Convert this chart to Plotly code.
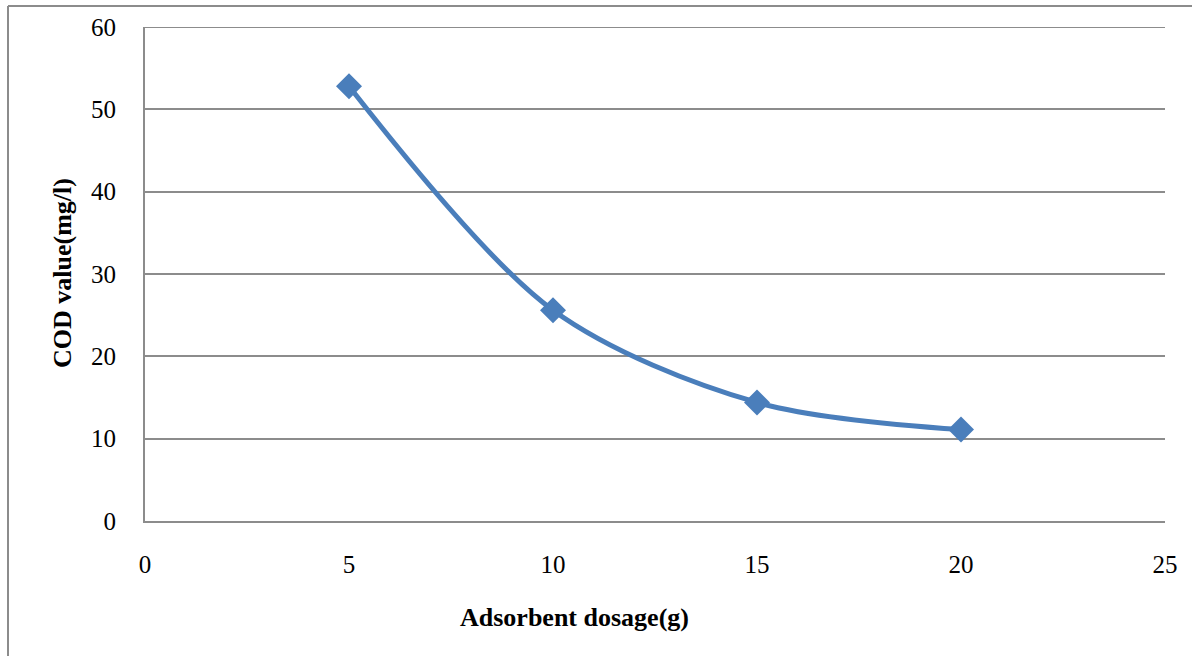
import plotly.graph_objects as go

dosage = [5, 10, 15, 20]
cod = [52.8, 25.6, 14.4, 11.1]

W, H = 1192, 656
L, R, T, B = 145, 27, 27, 135
pw, ph = W - L - R, H - T - B

fig = go.Figure()
fig.add_trace(go.Scatter(
    x=dosage, y=cod, mode="lines+markers",
    line=dict(color="#4a7ebb", width=5, shape="spline", smoothing=0.9),
    marker=dict(symbol="diamond", size=20, color="#4a7ebb"),
    showlegend=False,
))

font_family = "Liberation Serif, Times New Roman, serif"
fig.update_layout(
    width=W, height=H,
    margin=dict(l=L, r=R, t=T, b=B),
    paper_bgcolor="white", plot_bgcolor="white",
    font=dict(family=font_family, color="black", size=25),
    xaxis=dict(range=[0, 25], dtick=5, tick0=0, showgrid=False,
               showline=True, linecolor="#8c8c8c", linewidth=2,
               ticks="", ticklabelstandoff=20, zeroline=False,
               tickfont=dict(size=25)),
    yaxis=dict(range=[0, 60], dtick=10, tick0=0, showgrid=True,
               gridcolor="#8c8c8c", gridwidth=2,
               showline=True, linecolor="#8c8c8c", linewidth=2,
               ticks="", ticklabelstandoff=22, zeroline=False,
               tickfont=dict(size=25)),
)

# top gridline at the range edge
fig.add_shape(type="line", xref="paper", yref="y",
              x0=0, x1=1, y0=60, y1=60,
              line=dict(color="#8c8c8c", width=2), layer="below")

fig.add_annotation(xref="paper", yref="paper",
                   x=(574 - L) / pw, y=(H - B - 617) / ph,
                   xanchor="center", yanchor="middle",
                   text="<b>Adsorbent dosage(g)</b>", showarrow=False,
                   font=dict(size=26, family=font_family))
fig.add_annotation(xref="paper", yref="paper",
                   x=(62 - L) / pw, y=(H - B - 273) / ph,
                   xanchor="center", yanchor="middle",
                   text="<b>COD value(mg/l)</b>", showarrow=False, textangle=-90,
                   font=dict(size=26, family=font_family))

# outer chart border (left and top)
bx0 = (8 - L) / pw
by0 = (H - B - 6) / ph
fig.add_shape(type="line", xref="paper", yref="paper",
              x0=bx0, x1=bx0, y0=by0, y1=-0.5,
              line=dict(color="#8c8c8c", width=2))
fig.add_shape(type="line", xref="paper", yref="paper",
              x0=bx0, x1=1.1, y0=by0, y1=by0,
              line=dict(color="#8c8c8c", width=2))

fig.write_html("out.html")
